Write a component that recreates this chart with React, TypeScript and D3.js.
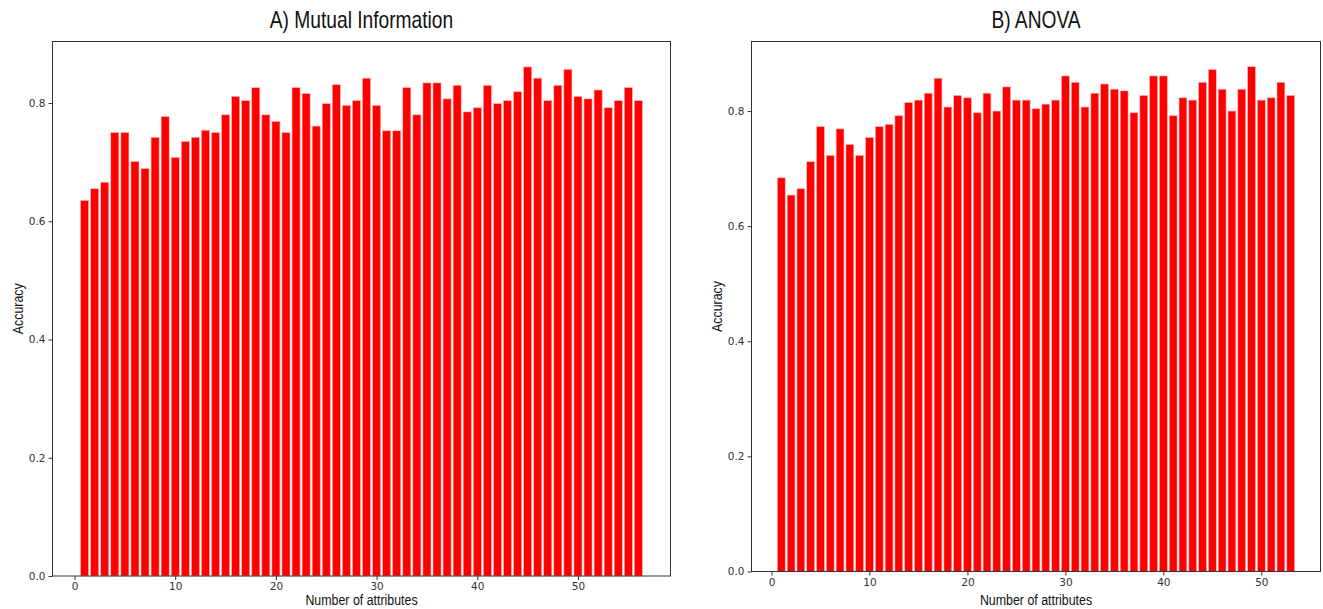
import React, { useRef, useEffect } from "react";
import * as d3 from "d3";

// A) Mutual Information, accuracy for 1..56 attributes
const miValues = [
  0.635, 0.655, 0.666, 0.75, 0.75, 0.701, 0.689, 0.742, 0.777, 0.708,
  0.735, 0.742, 0.754, 0.75, 0.78, 0.811, 0.804, 0.826, 0.78, 0.769,
  0.75, 0.826, 0.816, 0.761, 0.799, 0.831, 0.796, 0.804, 0.842, 0.796,
  0.753, 0.753, 0.826, 0.78, 0.834, 0.834, 0.807, 0.83, 0.785, 0.792,
  0.83, 0.799, 0.804, 0.819, 0.861, 0.842, 0.804, 0.83, 0.857, 0.811,
  0.807, 0.822, 0.792, 0.804, 0.826, 0.804,
];

// B) ANOVA, accuracy for 1..53 attributes
const anovaValues = [
  0.684, 0.654, 0.665, 0.712, 0.773, 0.723, 0.769, 0.742, 0.723, 0.754,
  0.773, 0.777, 0.792, 0.815, 0.819, 0.831, 0.857, 0.807, 0.827, 0.823,
  0.797, 0.831, 0.8, 0.842, 0.819, 0.819, 0.804, 0.812, 0.819, 0.861,
  0.85, 0.807, 0.831, 0.847, 0.838, 0.835, 0.797, 0.827, 0.861, 0.861,
  0.792, 0.823, 0.819, 0.85, 0.872, 0.838, 0.8, 0.838, 0.877, 0.819,
  0.823, 0.85, 0.827,
];

const xTicks = [0, 10, 20, 30, 40, 50];
const yTicks = [0, 0.2, 0.4, 0.6, 0.8];

const labelFont = "'Liberation Sans', Arial, sans-serif";
const tickFont = "'DejaVu Sans', sans-serif";

// condensed text: the original uses a narrow face, so squeeze a regular one
function narrowText(g, x, y, size, txt, rotate = 0) {
  g.append("g")
    .attr("transform", `translate(${x},${y}) rotate(${rotate}) scale(0.8,1)`)
    .append("text")
    .attr("text-anchor", "middle")
    .attr("font-family", labelFont)
    .attr("font-size", size)
    .attr("fill", "#111")
    .text(txt);
}

function drawPanel(svg, values, title, box) {
  const attrs = values.map((_, i) => i + 1);
  const xMin = 0.6, xMax = values.length + 0.4;
  const xPad = (xMax - xMin) * 0.05;
  const x = d3.scaleLinear().domain([xMin - xPad, xMax + xPad]).range([box.left, box.right]);
  const yMax = d3.max(values) * 1.05;
  const y = d3.scaleLinear().domain([0, yMax]).range([box.bottom, box.top]);

  const g = svg.append("g");

  g.selectAll("rect.bar")
    .data(values)
    .enter()
    .append("rect")
    .attr("class", "bar")
    .attr("x", (_, i) => x(attrs[i] - 0.4))
    .attr("width", (_, i) => x(attrs[i] + 0.4) - x(attrs[i] - 0.4))
    .attr("y", (d) => y(d))
    .attr("height", (d) => y(0) - y(d))
    .attr("fill", "#ff0000")
    .attr("stroke", "#ffb3b3")
    .attr("stroke-width", 0.6);

  const xAxis = d3.axisBottom(x).tickValues(xTicks).tickFormat(d3.format("d")).tickSizeOuter(0).tickSize(4);
  g.append("g")
    .attr("transform", `translate(0,${box.bottom})`)
    .call(xAxis)
    .call((a) => a.select(".domain").remove());

  const yAxis = d3.axisLeft(y).tickValues(yTicks).tickFormat(d3.format(".1f")).tickSizeOuter(0).tickSize(4);
  g.append("g")
    .attr("transform", `translate(${box.left},0)`)
    .call(yAxis)
    .call((a) => a.select(".domain").remove());

  g.selectAll(".tick text")
    .attr("font-family", tickFont)
    .attr("font-size", 10.5)
    .attr("fill", "#333");
  g.selectAll(".tick line").attr("stroke", "#333");

  g.append("rect")
    .attr("x", box.left)
    .attr("y", box.top)
    .attr("width", box.right - box.left)
    .attr("height", box.bottom - box.top)
    .attr("fill", "none")
    .attr("stroke", "#333")
    .attr("stroke-width", 1);

  const cx = (box.left + box.right) / 2;
  narrowText(g, cx, 28, 24, title);
  narrowText(g, cx, 605, 15.5, "Number of attributes");
  narrowText(g, box.left - 30, (box.top + box.bottom) / 2, 15.5, "Accuracy", -90);
}

export default function App() {
  const svgRef = useRef(null);

  useEffect(() => {
    const svg = d3.select(svgRef.current);
    svg.selectAll("*").remove();
    drawPanel(svg, miValues, "A) Mutual Information", { left: 52.5, right: 670.5, top: 41.5, bottom: 576 });
    drawPanel(svg, anovaValues, "B) ANOVA", { left: 751.5, right: 1320.5, top: 41.5, bottom: 571.5 });
  }, []);

  return (
    <svg
      ref={svgRef}
      width={1323}
      height={609}
      style={{ position: "absolute", left: 0, top: 0, background: "#fff" }}
    />
  );
}
